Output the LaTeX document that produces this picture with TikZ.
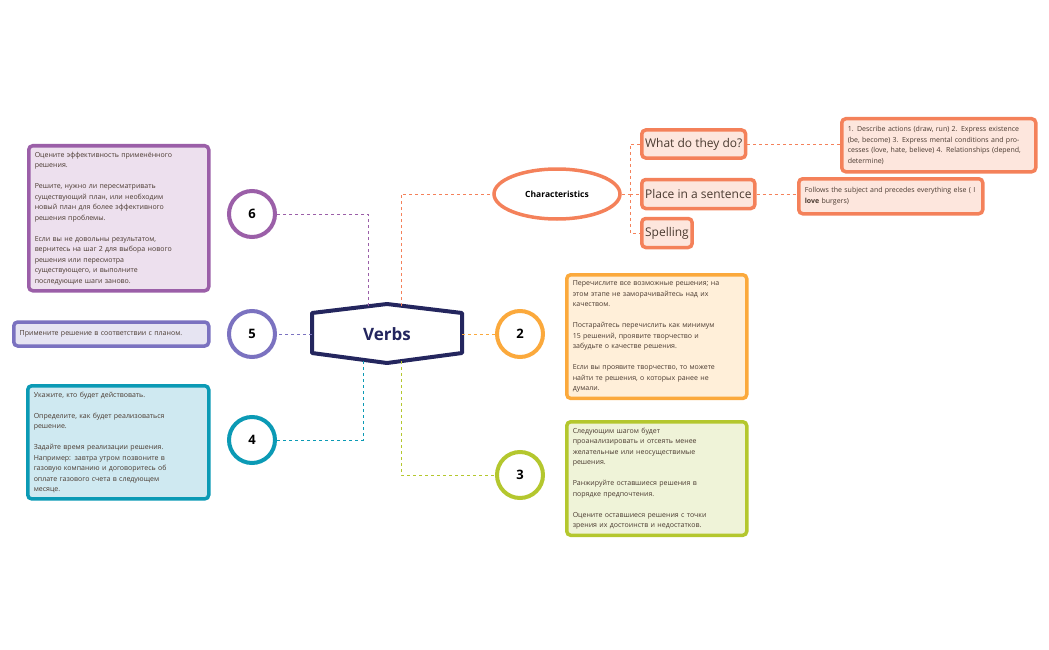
\documentclass[tikz,border=0pt]{standalone}
\usepackage{fontspec}
\setmainfont{Open Sans}
\usetikzlibrary{shapes.geometric}
\definecolor{navy}{HTML}{24265E}
\definecolor{pur}{HTML}{9B5FA8}\definecolor{purf}{HTML}{EDE0EE}
\definecolor{lav}{HTML}{7B72C0}\definecolor{lavf}{HTML}{E6E4F2}
\definecolor{teal}{HTML}{0B9AB5}\definecolor{tealf}{HTML}{CFE9F1}
\definecolor{org}{HTML}{FBA93C}\definecolor{orgf}{HTML}{FFEFD9}
\definecolor{lim}{HTML}{B4C72E}\definecolor{limf}{HTML}{EFF3D8}
\definecolor{sal}{HTML}{F4815A}\definecolor{salf}{HTML}{FDE6DD}
\definecolor{txt}{HTML}{4A3A30}
\tikzset{
 box/.style={draw=#1,fill=#1f,line width=3.5pt,rounded corners=4pt,anchor=north west,align=left,inner sep=6pt,font=\fontsize{7}{10.5}\selectfont,text=txt},
 num/.style={draw=#1,fill=white,circle,line width=4pt,minimum size=46pt,font=\bfseries\fontsize{13}{13}\selectfont},
 con/.style={draw=#1,dashed,line width=0.8pt},
 sbox/.style={draw=sal,fill=salf,line width=3.5pt,rounded corners=4pt,align=left,text=txt},
}
\begin{document}
\begin{tikzpicture}[x=1pt,y=-1pt]
\useasboundingbox (0,0) rectangle (1049,650);
% center
\draw[navy,line width=4pt,fill=white,line join=round] (312,313)--(387,304)--(462,313)--(462,353)--(387,363)--(312,353)--cycle;
\node (verbs) at (387,334) {\bfseries\fontsize{17}{17}\selectfont\color{navy}Verbs};
\coordinate (vt1) at (401,306);\coordinate (vt6) at (368,306);
\coordinate (vb4) at (363,361);\coordinate (vb3) at (401,361);
\coordinate (vl) at (312,334);\coordinate (vr) at (462,334);
% numbers
\node[num=pur] (n6) at (252,214) {6};
\node[num=lav] (n5) at (252,334) {5};
\node[num=teal] (n4) at (252,440) {4};
\node[num=org] (n2) at (520,334) {2};
\node[num=lim] (n3) at (520,475) {3};
\draw[con=pur] (vt6) |- (n6.east);
\draw[con=lav] (vl) -- (n5.east);
\draw[con=teal] (vb4) |- (n4.east);
\draw[con=org] (vr) -- (n2.west);
\draw[con=lim] (vb3) |- (n3.west);
% boxes
\node[box=pur,text width=168pt,minimum height=140pt] (b6) at (27,144) {Оцените эффективность применённого\\решения.\\[10.5pt]Решите, нужно ли пересматривать\\существующий план, или необходим\\новый план для более эффективного\\решения проблемы.\\[10.5pt]Если вы не довольны результатом,\\вернитесь на шаг 2 для выбора нового\\решения или пересмотра\\существующего, и выполните\\последующие шаги заново.};
\node[box=lav,text width=183pt,minimum height=24pt,anchor=west] (b5) at (12,334) {Примените решение в соответствии с планом.};
\node[box=teal,text width=169pt,minimum height=111pt] (b4) at (26,384) {Укажите, кто будет действовать.\\[10.5pt]Определите, как будет реализоваться\\решение.\\[10.5pt]Задайте время реализации решения.\\Например: завтра утром позвоните в\\газовую компанию и договоритесь об\\оплате газового счета в следующем\\месяце.};
\node[box=org,text width=168pt,minimum height=122pt] (b2) at (565,273) {Перечислите все возможные решения; на\\этом этапе не заморачивайтесь над их\\качеством.\\[10.5pt]Постарайтесь перечислить как минимум\\15 решений, проявите творчество и\\забудьте о качестве решения.\\[10.5pt]Если вы проявите творчество, то можете\\найти те решения, о которых ранее не\\думали.};
\node[box=lim,text width=168pt,minimum height=111pt] (b3) at (565,420) {Следующим шагом будет\\проанализировать и отсеять менее\\желательные или неосуществимые\\решения.\\[10.5pt]Ранжируйте оставшиеся решения в\\порядке предпочтения.\\[10.5pt]Оцените оставшиеся решения с точки\\зрения их достоинств и недостатков.};
% characteristics
\node[draw=sal,fill=white,ellipse,line width=3.5pt,minimum width=126pt,minimum height=50pt,font=\bfseries\fontsize{8.5}{9}\selectfont] (ch) at (557,194) {Characteristics};
\draw[con=sal] (vt1) |- (ch.west);
\node[sbox,anchor=west,minimum height=28pt,font=\fontsize{12}{12}\selectfont] (w) at (640,144) {What do they do?};
\node[sbox,anchor=west,minimum height=29pt,font=\fontsize{12}{12}\selectfont] (p) at (640,194) {Place in a sentence};
\node[sbox,anchor=west,minimum height=29pt,font=\fontsize{12}{12}\selectfont] (s) at (640,233) {Spelling};
\coordinate (cj) at (630,194);
\draw[con=sal] (ch.east) -- (cj);
\draw[con=sal] (w.west) -| (cj) |- (s.west);
\draw[con=sal] (cj) -- (p.west);
\node[sbox,anchor=north west,text width=182pt,minimum height=53pt,inner sep=6pt,font=\fontsize{7}{10.5}\selectfont] (d1) at (840,117) {1. Describe actions (draw, run) 2. Express existence (be, become) 3. Express mental conditions and processes (love, hate, believe) 4. Relationships (depend, determine)};
\node[sbox,anchor=north west,text width=172pt,minimum height=35pt,inner sep=6pt,font=\fontsize{7}{10.5}\selectfont] (d2) at (797,177) {Follows the subject and precedes everything else ( I \textbf{love} burgers)};
\draw[con=sal] (w.east) -- (d1.west|-w.east);
\draw[con=sal] (p.east) -- (d2.west|-p.east);
\end{tikzpicture}
\end{document}
